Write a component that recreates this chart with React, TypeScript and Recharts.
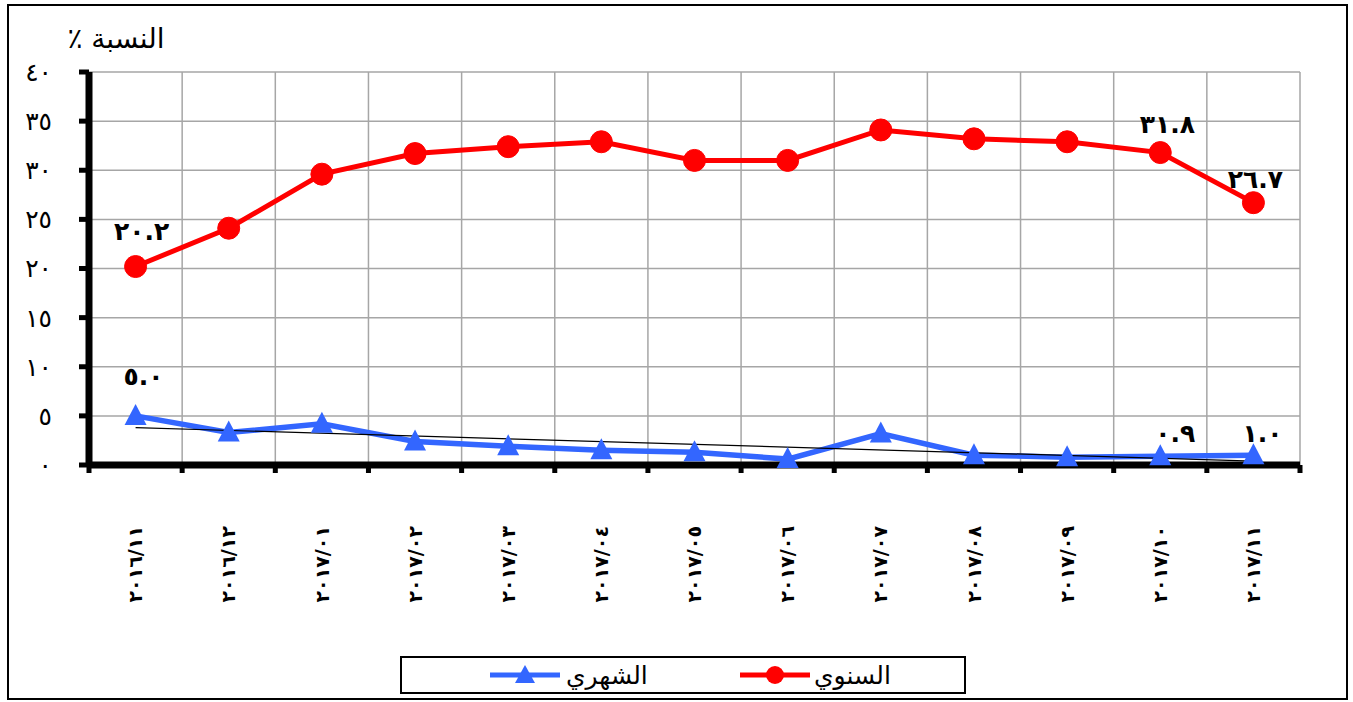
import React from "react";
import {
  CartesianGrid,
  LabelList,
  Legend,
  Line,
  LineChart,
  XAxis,
  YAxis,
} from "recharts";

const months = [
  "٢٠١٦/١١",
  "٢٠١٦/١٢",
  "٢٠١٧/٠١",
  "٢٠١٧/٠٢",
  "٢٠١٧/٠٣",
  "٢٠١٧/٠٤",
  "٢٠١٧/٠٥",
  "٢٠١٧/٠٦",
  "٢٠١٧/٠٧",
  "٢٠١٧/٠٨",
  "٢٠١٧/٠٩",
  "٢٠١٧/١٠",
  "٢٠١٧/١١",
];

// السنوي
const annual = [20.2, 24.1, 29.6, 31.7, 32.4, 32.9, 31.0, 31.0, 34.1, 33.2, 32.9, 31.8, 26.7];
// الشهري
const monthly = [5.0, 3.3, 4.2, 2.4, 1.9, 1.5, 1.3, 0.6, 3.2, 1.0, 0.8, 0.9, 1.0];
// trend line of the monthly series, only its two ends
const trend = [3.8, null, null, null, null, null, null, null, null, null, null, null, 0.4];

const annualLabels = ["٢٠.٢", "", "", "", "", "", "", "", "", "", "", "٣١.٨", "٢٦.٧"];
const monthlyLabels = ["٥.٠", "", "", "", "", "", "", "", "", "", "", "٠.٩", "١.٠"];

const yTicks = [0, 5, 10, 15, 20, 25, 30, 35, 40];
const yTickLabels = ["٠", "٥", "١٠", "١٥", "٢٠", "٢٥", "٣٠", "٣٥", "٤٠"];

const seriesNames = { annual: "السنوي", monthly: "الشهري" };
const title = "النسبة ٪";

const RED = "#ff0000";
const BLUE = "#3366ff";
const FONT = "'DejaVu Sans', sans-serif";
const X_TICK_SIZE = 8;
const X_TICK_MARGIN = 53;

const rows = months.map((m, i) => ({
  x: i + 0.5,
  month: m,
  annual: annual[i],
  monthly: monthly[i],
  trend: trend[i],
  annualLabel: annualLabels[i],
  monthlyLabel: monthlyLabels[i],
}));

// category edges (tick marks + grid) and centres (labels)
const edgeTicks = months.map((_, i) => i).concat(months.length);
const xTicks = months.flatMap((_, i) => [i, i + 0.5]).concat(months.length);

// label nudges, by series and point index
const labelShift: Record<string, Record<number, [number, number]>> = {
  annual: { 0: [6, -35], 11: [7, -28], 12: [2, -23] },
  monthly: { 0: [8, -39], 11: [15, -23], 12: [9, -22] },
};

const pointLabel = (series: string) => (props: any) => {
  const { x, y, value, index } = props;
  if (!value) return null;
  const [dx, dy] = labelShift[series][index] || [0, -25];
  return (
    <text
      x={x + dx}
      y={y + dy}
      textAnchor="middle"
      dominantBaseline="central"
      fontFamily={FONT}
      fontWeight="bold"
      fontSize={25}
      fill="#000"
    >
      {value}
    </text>
  );
};

const Triangle = (props: any) => {
  const { cx, cy, index } = props;
  if (cx == null || cy == null) return null;
  return (
    <path
      key={`tri-${index}`}
      d={`M${cx},${cy - 12} L${cx + 11},${cy + 9} L${cx - 11},${cy + 9} Z`}
      fill={BLUE}
    />
  );
};

const MonthTick = (props: any) => {
  const { x, y, payload } = props;
  const v = payload.value;
  if (Number.isInteger(v)) {
    const top = y - X_TICK_MARGIN - X_TICK_SIZE;
    return <rect x={x - 2.5} y={top} width={5} height={X_TICK_SIZE} fill="#000" />;
  }
  const label = months[Math.floor(v)];
  return (
    <text
      x={x}
      y={y}
      transform={`rotate(-90 ${x} ${y})`}
      textAnchor="end"
      dy="0.35em"
      fontFamily={FONT}
      fontWeight="bold"
      fontSize={19}
      fill="#000"
    >
      {label}
    </text>
  );
};

const LegendIcon = ({ color, marker }: { color: string; marker: string }) => (
  <svg width={74} height={22}>
    <line x1={2} y1={11} x2={72} y2={11} stroke={color} strokeWidth={5} />
    {marker === "circle" ? (
      <circle cx={37} cy={11} r={9} fill={color} />
    ) : (
      <path d="M37,1 L47,19 L27,19 Z" fill={color} />
    )}
  </svg>
);

const LegendBox = () => (
  <div
    style={{
      boxSizing: "border-box",
      width: 566,
      height: 38,
      border: "2px solid #000",
      display: "flex",
      alignItems: "center",
      paddingLeft: 86,
      fontFamily: FONT,
      fontSize: 25,
      direction: "ltr",
    }}
  >
    <LegendIcon color={BLUE} marker="triangle" />
    <span style={{ marginLeft: 4, width: 172 }}>{seriesNames.monthly}</span>
    <LegendIcon color={RED} marker="circle" />
    <span style={{ marginLeft: 2 }}>{seriesNames.annual}</span>
  </div>
);

export default function App() {
  return (
    <div style={{ position: "absolute", left: 0, top: 0, width: 1353, height: 702, background: "#fff" }}>
      <LineChart
        width={1353}
        height={702}
        data={rows}
        margin={{ top: 72, right: 53, left: 0, bottom: 8 }}
      >
        <CartesianGrid
          stroke="#a6a6a6"
          strokeWidth={1.5}
          verticalCoordinatesGenerator={({ offset }: any) =>
            edgeTicks.map((t) => offset.left + (t * offset.width) / months.length)
          }
        />
        <XAxis
          type="number"
          dataKey="x"
          domain={[0, months.length]}
          ticks={xTicks}
          interval={0}
          height={191}
          tickSize={X_TICK_SIZE}
          tickMargin={X_TICK_MARGIN}
          axisLine={{ stroke: "#000", strokeWidth: 7 }}
          tickLine={false}
          tick={<MonthTick />}
        />
        <YAxis
          type="number"
          domain={[0, 40]}
          ticks={yTicks}
          interval={0}
          width={89}
          tickSize={10}
          tickMargin={27}
          axisLine={{ stroke: "#000", strokeWidth: 7 }}
          tickLine={{ stroke: "#000", strokeWidth: 5 }}
          tickFormatter={(v) => yTickLabels[yTicks.indexOf(v)]}
          tick={{ fontFamily: FONT, fontSize: 25, fill: "#000" }}
        />
        <Legend
          content={<LegendBox />}
          wrapperStyle={{ left: 400, width: 566, bottom: 8 }}
        />
        <Line
          dataKey="annual"
          name={seriesNames.annual}
          stroke={RED}
          strokeWidth={5}
          dot={{ r: 11, fill: RED, stroke: RED, strokeWidth: 1 }}
          isAnimationActive={false}
        >
          <LabelList dataKey="annualLabel" content={pointLabel("annual")} />
        </Line>
        <Line
          dataKey="monthly"
          name={seriesNames.monthly}
          stroke={BLUE}
          strokeWidth={5.5}
          dot={<Triangle />}
          isAnimationActive={false}
        >
          <LabelList dataKey="monthlyLabel" content={pointLabel("monthly")} />
        </Line>
        <Line
          dataKey="trend"
          stroke="#000"
          strokeWidth={1.2}
          dot={false}
          connectNulls
          legendType="none"
          isAnimationActive={false}
        />
      </LineChart>
      <div
        dir="rtl"
        style={{
          position: "absolute",
          left: 56,
          top: 22,
          width: 120,
          textAlign: "center",
          fontFamily: FONT,
          fontSize: 28,
          color: "#000",
        }}
      >
        {title}
      </div>
      <div
        style={{
          position: "absolute",
          left: 7,
          top: 4,
          width: 1341,
          height: 696,
          boxSizing: "border-box",
          border: "2px solid #000",
          pointerEvents: "none",
        }}
      />
    </div>
  );
}
